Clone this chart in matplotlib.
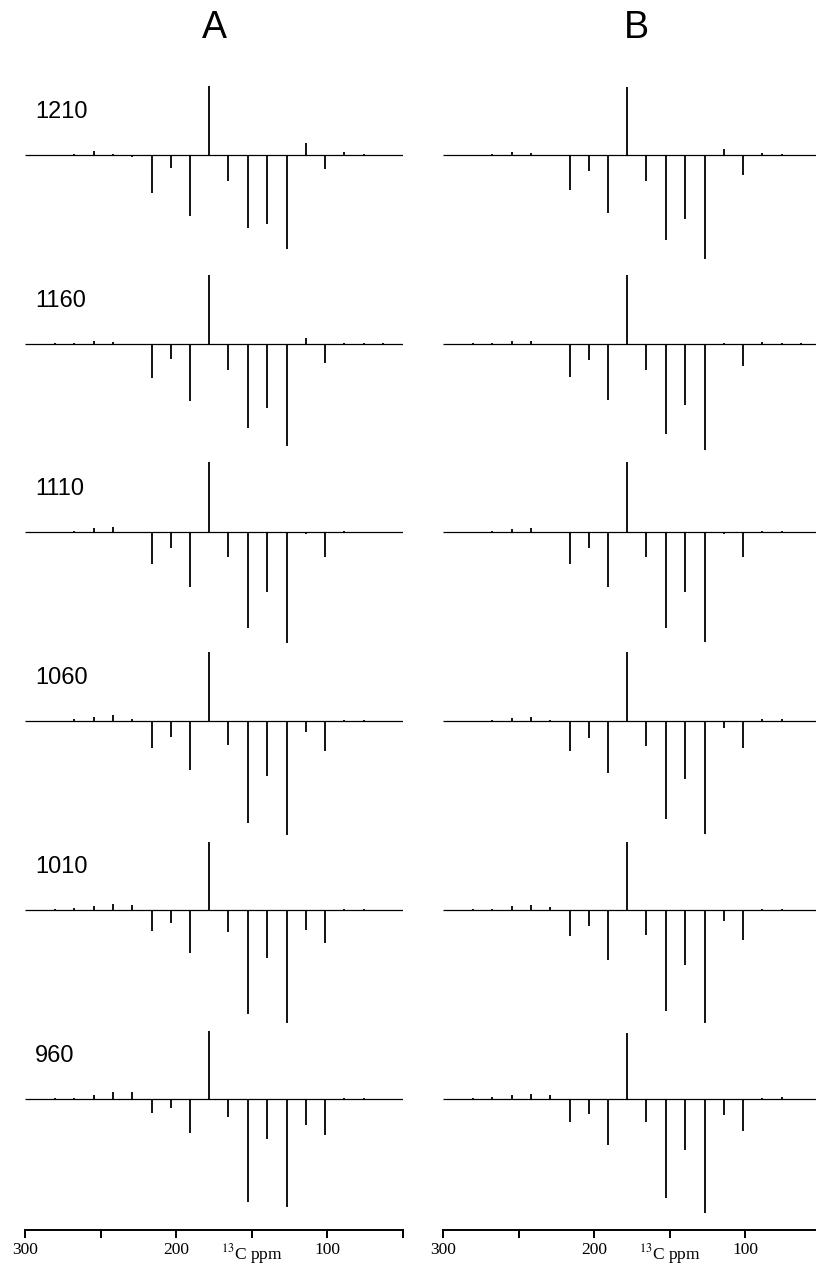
import matplotlib
matplotlib.use('Agg')
import matplotlib.pyplot as plt

# posiciones de los picos (ppm) - mismo peine para todos los espectros
ppm = [280, 267.5, 254.5, 241.5, 229, 216, 203.5, 191, 178, 165.5,
       152.5, 140, 127, 114, 101.5, 89, 76, 63.5]

etiquetas = ['1210', '1160', '1110', '1060', '1010', '960']

# intensidades, panel A
amp_A = [
    [0.5, 1, 4, 1, -2, -38, -13, -61, 69, -26, -73, -69, -94, 12, -14, 3, 1, 0.5],
    [0.5, 1, 3, 2, 0, -34, -15, -57, 69, -26, -84, -64, -102, 6, -19, 1, 0.5, 0.5],
    [0.5, 1, 4, 5, 0, -32, -16, -55, 70, -25, -96, -60, -111, -2, -25, 1, 0.5, 0.5],
    [0.5, 2, 4, 6, 2, -27, -16, -49, 69, -24, -102, -55, -114, -11, -30, 1, 1, 0],
    [1, 2, 4, 6, 5, -21, -13, -43, 68, -22, -104, -48, -113, -20, -33, 0.5, 1, 0],
    [1, 1, 4, 7, 7, -14, -9, -34, 68, -18, -103, -40, -108, -26, -36, 0.5, 1, 0],
]

# panel B
amp_B = [
    [0.5, 1, 3, 2, -1, -35, -16, -58, 68, -26, -85, -64, -104, 6, -20, 2, 1, -0.5],
    [0.5, 1, 3, 3, 0, -33, -16, -56, 69, -26, -90, -61, -106, 1, -22, 2, 1, 0.5],
    [0.5, 1, 3, 4, 0, -32, -16, -55, 70, -25, -96, -60, -110, -2, -25, 1, 1, 0.5],
    [0.5, 1, 3, 4, 1.5, -30, -17, -52, 69, -25, -98, -58, -113, -7, -27, 2, 2, 0],
    [0.7, 1.3, 4, 5, 3, -26, -16, -50, 68, -25, -101, -55, -113, -11, -30, 1, 1, 0],
    [0.5, 1.3, 4, 5, 4, -23, -15, -46, 66, -23, -99, -51, -114, -16, -32, 0.5, 1.3, 0],
]

ticks = [300, 250, 200, 150, 100, 50]
tick_labels = ['300', '', '200', '$^{13}$C ppm', '100', '']

plt.rcParams['mathtext.fontset'] = 'stix'

W, H = 816, 1265
fig = plt.figure(figsize=(W / 100, H / 100), dpi=100)


def panel(x0, amps, titulo, tx, con_etiquetas):
    ax = fig.add_axes([x0 / W, 35 / H, 378 / W, 1230 / H])
    ax.set_xlim(300, 50)
    ax.set_ylim(0, 1230)
    for s in ['left', 'right', 'top']:
        ax.spines[s].set_visible(False)
    ax.spines['bottom'].set_linewidth(1.4)
    ax.set_yticks([])
    ax.set_xticks(ticks)
    ax.set_xticklabels(tick_labels, fontfamily='Liberation Serif', fontsize=12.5)
    ax.tick_params(axis='x', direction='out', length=6, width=1.4, pad=3)

    for i, fila in enumerate(amps):
        y0 = 1230 - (155 + i * 188.7)
        ax.hlines(y0, 300, 50, color='black', lw=0.9)
        ax.vlines(ppm, y0, [y0 + a for a in fila], color='black', lw=1.3)
        if con_etiquetas:
            ax.text(293.4, y0 + 43, etiquetas[i], fontfamily='Liberation Sans',
                    fontsize=17, ha='left', va='center')

    fig.text(tx / W, 1 - 28 / H, titulo, fontfamily='Liberation Sans',
             fontsize=27, ha='center', va='center')
    return ax


panel(25, amp_A, 'A', 214, True)
panel(443, amp_B, 'B', 636, False)

fig.savefig('out.png', dpi=100)
